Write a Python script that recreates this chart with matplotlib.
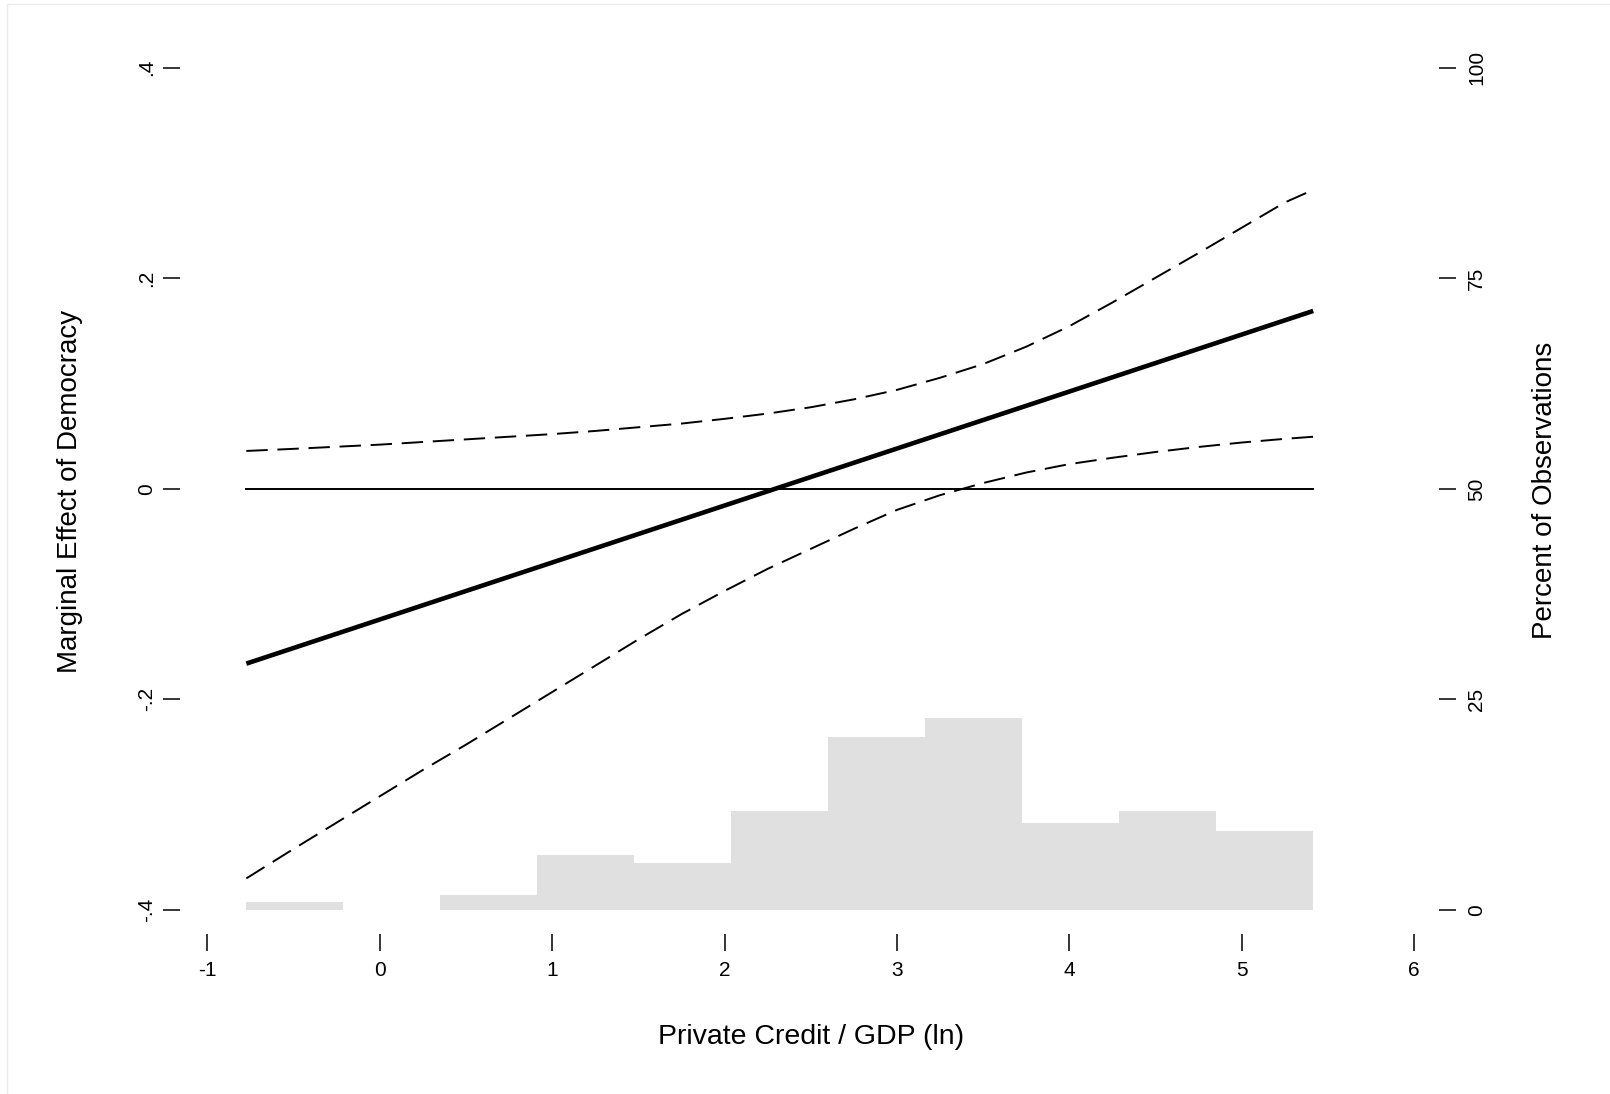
import numpy as np
import matplotlib
matplotlib.use("Agg")
import matplotlib.pyplot as plt
from matplotlib.patches import Rectangle

plt.rcParams['font.family'] = ['Liberation Sans', 'DejaVu Sans']

# marginal effect of democracy over private credit / GDP (ln), 95% bounds
grid_x = [-0.774, -0.5, -0.25, 0.0, 0.25, 0.5, 0.75, 1.0, 1.25, 1.5, 1.75, 2.0, 2.25,
          2.5, 2.75, 3.0, 3.25, 3.5, 3.75, 4.0, 4.25, 4.5, 4.75, 5.0, 5.25, 5.415]
ci_upper = [0.036, 0.038, 0.040, 0.042, 0.0445, 0.047, 0.0495, 0.052, 0.055, 0.0585,
            0.062, 0.0665, 0.0715, 0.0775, 0.085, 0.094, 0.1055, 0.1185, 0.135, 0.1545,
            0.177, 0.2005, 0.224, 0.248, 0.272, 0.284]
ci_lower = [-0.370, -0.342, -0.317, -0.292, -0.267, -0.243, -0.218, -0.193, -0.168, -0.143,
            -0.119, -0.097, -0.076, -0.057, -0.038, -0.020, -0.006, 0.0055, 0.0155, 0.0235,
            0.0295, 0.035, 0.0398, 0.044, 0.0475, 0.0495]
me_x = [-0.774, 5.415]
me_y = [-0.166, 0.169]

# distribution of the modifying variable
bin_edges = [-0.774, -0.211, 0.351, 0.914, 1.477, 2.039, 2.602, 3.165, 3.727, 4.290, 4.852, 5.415]
obs_pct = [0.9, 0.0, 1.8, 6.5, 5.6, 11.8, 20.5, 22.8, 10.3, 11.8, 9.4]

x_ticks = [-1, 0, 1, 2, 3, 4, 5, 6]
y_ticks = [-0.4, -0.2, 0.0, 0.2, 0.4]
y_tick_labels = ["-.4", "-.2", "0", ".2", ".4"]
pct_ticks = [0, 25, 50, 75, 100]

fig = plt.figure(figsize=(16.1, 10.94), dpi=100)
ax = fig.add_axes([0.1288, 0.1682, 0.7495, 0.7699])
ax2 = ax.twinx()

edges = np.array(bin_edges)
ax2.bar(edges[:-1], obs_pct, width=np.diff(edges), align='edge',
        color='#e0e0e0', linewidth=0)
ax2.set_ylim(0, 100)

ax.set_zorder(ax2.get_zorder() + 1)
ax.patch.set_visible(False)

ax.plot(grid_x, ci_upper, color='black', lw=1.4, dashes=(11, 5))
ax.plot(grid_x, ci_lower, color='black', lw=1.4, dashes=(11, 5))
ax.plot(me_x, me_y, color='black', lw=3.3, solid_capstyle='butt')
ax.plot([me_x[0], me_x[-1]], [0, 0], color='black', lw=1.4)

ax.set_xlim(-1, 6)
ax.set_ylim(-0.4, 0.4)

for a in (ax, ax2):
    for sp in a.spines.values():
        sp.set_visible(False)
ax.spines['left'].set_position(('outward', 19.4))
ax.spines['bottom'].set_position(('outward', 17.3))
ax2.spines['right'].set_position(('outward', 18))

ax.set_xticks(x_ticks)
ax.set_xticklabels([str(t) for t in x_ticks])
ax.set_yticks(y_ticks)
ax.set_yticklabels(y_tick_labels, rotation=90, va='center')
ax2.set_yticks(pct_ticks)
ax2.set_yticklabels([str(t) for t in pct_ticks], rotation=90, va='center')

ax.tick_params(axis='both', direction='out', length=12.2, width=1.1,
               labelsize=15, colors='black')
ax.tick_params(axis='y', pad=5, right=False)
ax.tick_params(axis='x', pad=7)
ax2.tick_params(axis='y', direction='out', length=12.2, width=1.1,
                labelsize=15, pad=8, left=False)

fig.text(811 / 1610, 1 - 1037 / 1094, "Private Credit / GDP (ln)",
         ha='center', va='center', fontsize=20.5)
fig.text(70 / 1610, 1 - 491 / 1094, "Marginal Effect of Democracy",
         ha='center', va='center', rotation=90, fontsize=20)
fig.text(1545 / 1610, 1 - 490 / 1094, "Percent of Observations",
         ha='center', va='center', rotation=90, fontsize=20)

fig.add_artist(Rectangle((7 / 1610, -0.1), 1.1, 1090 / 1094 + 0.1,
                         transform=fig.transFigure, fill=False,
                         edgecolor='#ebebeb', lw=1))

fig.savefig("out.png", dpi=100)
